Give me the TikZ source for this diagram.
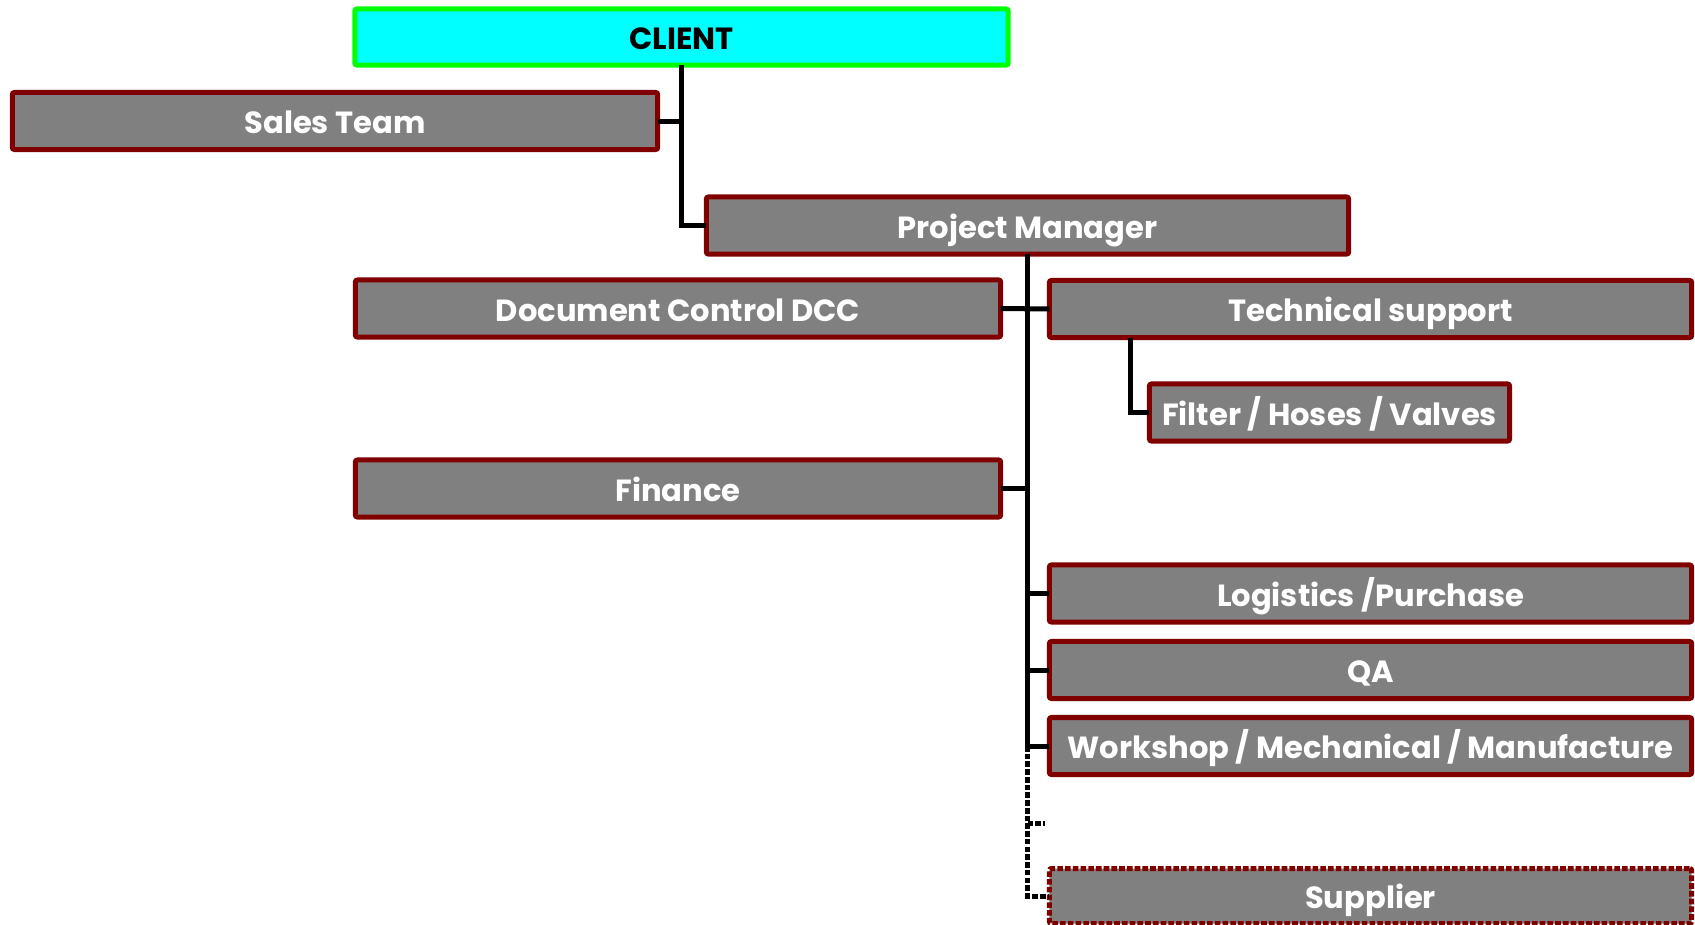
\documentclass[tikz,border=0pt]{standalone}
\usepackage{fontspec}
\setmainfont{Poppins}
\usetikzlibrary{positioning, calc}

\definecolor{boxred}{HTML}{800000}
\definecolor{boxgray}{HTML}{808080}
\definecolor{clientfill}{HTML}{00FFFF}
\definecolor{clientline}{HTML}{00FF00}

\begin{document}
\begin{tikzpicture}[x=0.01cm, y=-0.01cm,
  orgbox/.style={draw=boxred, fill=boxgray, line width=0.05cm, text=white,
    font=\bfseries\fontsize{8.7}{11}\selectfont, inner sep=0pt, outer sep=0pt,
    text height=0.72em, text depth=0pt,
    minimum width=6.45cm, minimum height=0.57cm, rounded corners=0.6pt},
  wire/.style={line width=0.05cm},
  dots/.style={dash pattern=on 1.6pt off 0.6pt}]
\useasboundingbox (0,0) rectangle (1695,924);

\node[orgbox, draw=clientline, fill=clientfill, text=black, minimum width=6.53cm,
  minimum height=0.56cm] (client) at (681.5,37) {CLIENT};
\node[orgbox] (sales) at (335,121) {Sales Team};
\node[orgbox, minimum width=6.42cm] (pm) at (1027.5,225.5) {Project Manager};
\node[orgbox] (dcc) at (678,308.5) {Document Control DCC};
\node[orgbox, minimum width=6.42cm] (tech) at (1370.5,309) {Technical support};
\node[orgbox, minimum width=3.6cm] (filter) at (1329.5,412.5) {Filter / Hoses / Valves};
\node[orgbox] (finance) at (678,488.5) {Finance};
\node[orgbox, minimum width=6.42cm] (logistics) at (1370.5,593.5) {Logistics /Purchase};
\node[orgbox, minimum width=6.42cm] (qa) at (1370.5,670) {QA};
\node[orgbox, minimum width=6.42cm] (workshop) at (1370.5,746) {Workshop / Mechanical / Manufacture};
\node[orgbox, dots, minimum width=6.42cm, minimum height=0.55cm] (supplier) at (1370.5,896) {Supplier};
\coordinate (stub) at (1045,823);

% draw wires
\draw[wire] (client.south) |- (pm.west);
\draw[wire] (sales.east) -- (sales.east -| client.south);
\draw[wire] (pm.south) -- (pm.south |- workshop.west);
\draw[wire] (dcc.east) -- (tech.west);
\draw[wire] (finance.east) -- (finance.east -| pm.south);
\draw[wire] (logistics.west) -- (logistics.west -| pm.south);
\draw[wire] (qa.west) -- (qa.west -| pm.south);
\draw[wire] (workshop.west) -- (workshop.west -| pm.south);
\draw[wire] ([xshift=0.81cm]tech.south west) |- (filter.west);

% dotted link to supplier
\draw[wire, dots] (pm.south |- workshop.west) |- (supplier.west);
\draw[wire, dots] (stub -| pm.south) -- (stub);
\end{tikzpicture}
\end{document}
